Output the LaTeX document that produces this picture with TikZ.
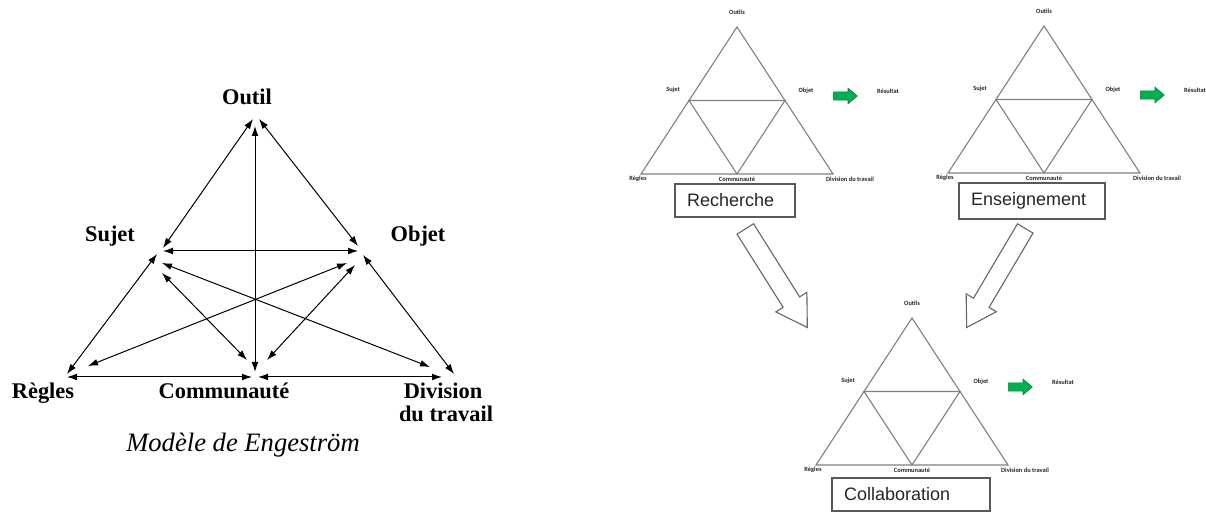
\documentclass[tikz,border=0pt]{standalone}
\usepackage{fontspec}
\setmainfont{Liberation Serif}
\newfontfamily\boxfont{Liberation Sans}
\newfontfamily\smallfont{Carlito}
\usetikzlibrary{arrows.meta,shapes.arrows}
\definecolor{pptgreen}{HTML}{00B050}
\newcommand\smalltri[3]{%
\begin{scope}[shift={(#2,#3)}]
\coordinate (#1A) at (0,0);
\coordinate (#1L) at (-96,147);
\coordinate (#1R) at (96,147);
\coordinate (#1ML) at (-48,73.5);
\coordinate (#1MR) at (48,73.5);
\coordinate (#1MB) at (0,147);
\draw[triline] (#1A) -- (#1L) -- (#1R) -- cycle;
\draw[triline] (#1ML) -- (#1MR) -- (#1MB) -- cycle;
\node[tinylbl] (#1o) at (0,-15) {Outils};
\node[tinylbl] (#1s) at (-64,63) {Sujet};
\node[tinylbl] (#1b) at (69,64) {Objet};
\node[tinylbl] (#1r) at (-99,152) {Règles};
\node[tinylbl] (#1c) at (0,152) {Communauté};
\node[tinylbl] (#1d) at (113,152) {Division du travail};
\node[tinylbl] (#1res) at (151,64) {Résultat};
\node[greenarrow] (#1g) at (96,69) {};
\end{scope}}
\begin{document}
\begin{tikzpicture}[x=0.5pt,y=-0.5pt,
  lbl/.style={font=\fontsize{11.2}{13}\selectfont\bfseries, inner sep=0pt, anchor=base},
  dbl/.style={{Latex[length=5pt,width=3.4pt]}-{Latex[length=5pt,width=3.4pt]}, line width=0.5pt},
  triline/.style={draw=black!50, line width=0.55pt},
  tinylbl/.style={font=\smallfont\bfseries\fontsize{3.2}{4}\selectfont, inner sep=0pt, text=black!85},
  boxn/.style={draw=black!65, line width=0.6pt, font=\boxfont\fontsize{9}{11}\selectfont, align=left, inner xsep=6pt, inner ysep=0pt, text=black!85},
  greenarrow/.style={single arrow, fill=pptgreen, draw=pptgreen!75!black, line width=0.3pt, anchor=tail, minimum height=12pt, minimum width=7.5pt, inner xsep=0pt, inner ysep=1.9pt, single arrow head extend=1.85pt, single arrow tip angle=80},
  hollow/.style={single arrow, draw=black!60, fill=white, line width=0.55pt, anchor=tail, inner xsep=0pt}]
\useasboundingbox[fill=white] (0,0) rectangle (1206,512);

% ---------- Engestrom model ----------
\node[lbl] (outil) at (247,105) {Outil};
\node[lbl] (sujet) at (110,241.5) {Sujet};
\node[lbl] (objet) at (418,241.5) {Objet};
\node[lbl] (regles) at (43,399) {Règles};
\node[lbl] (comm) at (224,399) {Communauté};
\node[lbl] (div1) at (443,399) {Division};
\node[lbl] (div2) at (446,421.5) {du travail};
\node[font=\fontsize{13.3}{15}\selectfont\itshape, inner sep=0pt, anchor=base] (caption) at (243,451.5) {Modèle de Engeström};

\coordinate (Os) at (253,119);  \coordinate (So) at (163,248);
\coordinate (Ob) at (259,119);  \coordinate (Bo) at (358,246);
\coordinate (Oc) at (255,126);  \coordinate (Co) at (255,372);
\coordinate (Sb) at (163,251);  \coordinate (Bs) at (358,251);
\coordinate (Sr) at (157,254);  \coordinate (Rs) at (67,374);
\coordinate (Bd) at (363,255);  \coordinate (Db) at (454,374);
\coordinate (Rc) at (67,377);   \coordinate (Cr) at (252,377);
\coordinate (Cd) at (258,377);  \coordinate (Dc) at (442,377);
\coordinate (Sc) at (162,273);  \coordinate (Cs) at (247,360);
\coordinate (Bc) at (355,265);  \coordinate (Cb) at (267,360);
\coordinate (Sd) at (162,263);  \coordinate (Ds) at (430,367);
\coordinate (Br) at (347,263);  \coordinate (Rb) at (88,366);

\draw[dbl] (Os) -- (So);
\draw[dbl] (Ob) -- (Bo);
\draw[dbl] (Oc) -- (Co);
\draw[dbl] (Sb) -- (Bs);
\draw[dbl] (Sr) -- (Rs);
\draw[dbl] (Bd) -- (Db);
\draw[dbl] (Rc) -- (Cr);
\draw[dbl] (Cd) -- (Dc);
\draw[dbl] (Sc) -- (Cs);
\draw[dbl] (Bc) -- (Cb);
\draw[dbl] (Sd) -- (Ds);
\draw[dbl] (Br) -- (Rb);

% ---------- small triangles ----------
\smalltri{t1}{737}{27}
\smalltri{t2}{1044}{26}
\smalltri{t3}{912}{318}

\node[boxn, text width=48pt, minimum height=16.5pt] (b1) at (735,200.5) {Recherche};
\node[boxn, text width=61pt, minimum height=18pt] (b2) at (1032,201) {Enseignement};
\node[boxn, text width=67pt, minimum height=16.5pt] (b3) at (911,494.5) {Collaboration};

\node[hollow, rotate=-57.8, minimum height=58.2pt, minimum width=17.75pt, inner ysep=4.6pt, single arrow head extend=4.3pt, single arrow tip angle=63] (h1) at (745,228.5) {};
\node[hollow, rotate=-120.6, minimum height=57.5pt, minimum width=17pt, inner ysep=4.25pt, single arrow head extend=4.25pt, single arrow tip angle=63] (h2) at (1025.5,228) {};
\end{tikzpicture}
\end{document}
